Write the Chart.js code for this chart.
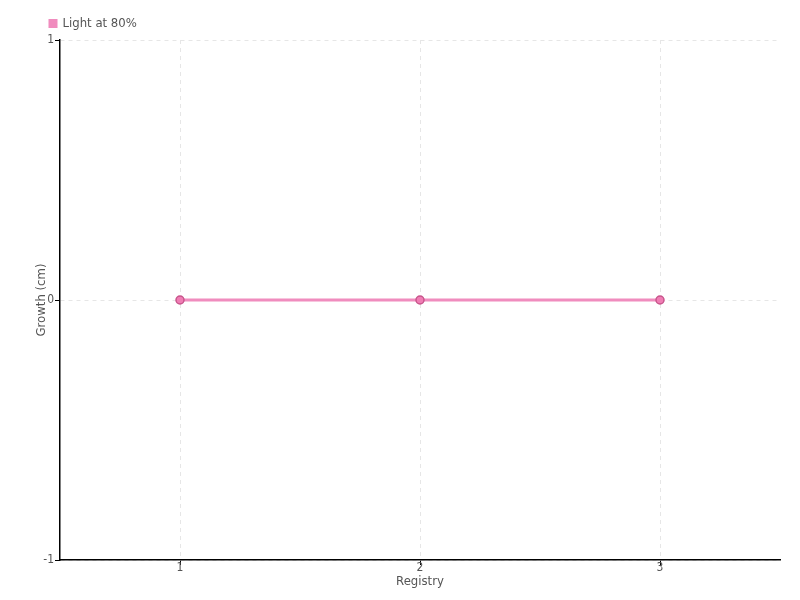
<!DOCTYPE html>
<html>
<head>
<meta charset="utf-8">
<script src="https://cdn.jsdelivr.net/npm/chart.js@4"></script>
<style>
  html, body { margin: 0; padding: 0; background: #fff; }
  #wrap { width: 800px; height: 600px; }
</style>
</head>
<body>
<div id="wrap"><canvas id="canvas"></canvas></div>
<script>
const labels = ['1', '2', '3'];
const growth = [0, 0, 0];
const yTicks = [-1, 0, 1];

Chart.defaults.font.family = "'Liberation Sans Narrow', 'DejaVu Sans Condensed', 'DejaVu Sans', sans-serif";
Chart.defaults.font.size = 12;
Chart.defaults.color = '#555';

const ctx = document.getElementById('canvas');

new Chart(ctx, {
    type: 'line',
    data: {
        labels: labels,
        datasets: [{
            label: 'Light at 80%',
            data: growth,
            fill: false,
            borderColor: 'rgb(240, 140, 190)',
            backgroundColor: 'rgb(240, 140, 190)',
            borderWidth: 3,
            pointRadius: 4,
            pointBackgroundColor: 'rgb(240, 125, 180)',
            pointBorderColor: 'rgb(200, 85, 140)',
            pointBorderWidth: 1.5,
            tension: 0,
        }]
    },
    options: {
        responsive: true,
        maintainAspectRatio: false,
        animation: false,
        layout: { padding: { top: 9, right: 20, left: 34, bottom: 11 } },
        plugins: {
            legend: {
                align: 'start',
                labels: {
                    boxWidth: 6,
                    boxHeight: 6,
                    padding: 8,
                    font: { size: 13 }
                }
            },
            tooltip: { enabled: false }
        },
        scales: {
            x: {
                offset: true,
                grid: {
                    offset: false,
                    color: '#e6e6e6',
                    tickColor: '#000',
                    tickLength: 5
                },
                border: { color: '#000', width: 1.5, dash: [4, 4] },
                ticks: { padding: -4 },
                title: { display: true, text: 'Registry', padding: { top: 2, bottom: 0 }, font: { size: 13 } }
            },
            y: {
                min: -1,
                max: 1,
                afterBuildTicks: (axis) => { axis.ticks = yTicks.map(v => ({ value: v })); },
                afterFit: (axis) => { axis.width = 26; },
                grid: {
                    color: '#e6e6e6',
                    tickColor: '#000',
                    tickLength: 5
                },
                border: { color: '#000', width: 1.5, dash: [4, 4] },
                ticks: { padding: 1 },
                title: { display: true, text: 'Growth (cm)', padding: 0, font: { size: 13 } }
            }
        }
    },
    plugins: [{
        id: 'legendShift',
        afterLayout(chart) {
            chart.legend.left = 42;
        }
    }]
});
</script>
</body>
</html>
